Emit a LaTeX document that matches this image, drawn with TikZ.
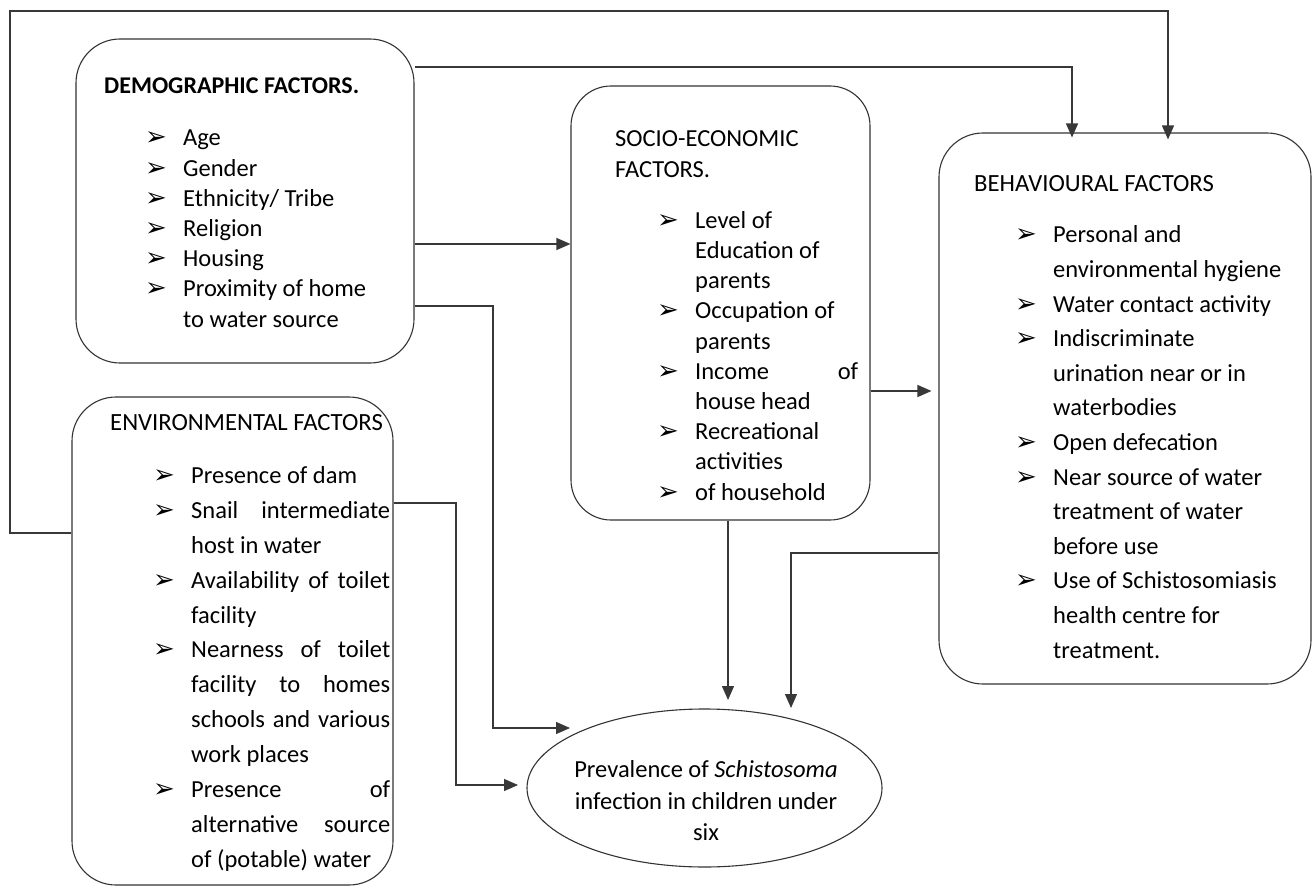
\documentclass[tikz,border=0pt]{standalone}
\usepackage{fontspec}
\setmainfont{Carlito}
\newfontfamily\djv{DejaVu Sans}
\usetikzlibrary{arrows.meta,shapes.geometric}
\newcommand{\bul}{{\djv\fontsize{26}{26}\selectfont ➢}}
\newcommand{\itm}[1]{\makebox[38pt][l]{\bul}#1}
\newcommand{\cnt}[1]{\hspace*{38pt}#1}
\begin{document}
\begin{tikzpicture}[x=1pt,y=-1pt,
  box/.style={draw=black!80, line width=1.1pt, rounded corners=44pt, inner sep=0pt},
  conn/.style={draw=black!78, line width=1.3pt},
  arr/.style={conn, -{Triangle[length=14pt,width=12pt]}},
  lst/.style={anchor=base west, align=left, inner sep=0pt},
  ttl/.style={anchor=base west, inner sep=0pt}]
\useasboundingbox (0,0) rectangle (1312,888);
% boxes
\node[box, minimum width=338pt, minimum height=324pt] (demo) at (245,201) {};
\node[box, minimum width=321pt, minimum height=488pt] (env) at (232.5,641) {};
\node[box, minimum width=299pt, minimum height=434pt, rounded corners=40pt] (socio) at (720.5,303) {};
\node[box, minimum width=372pt, minimum height=551pt] (behav) at (1125,408.5) {};
\node[draw=black!80, line width=1.1pt, ellipse, minimum width=355pt, minimum height=158pt, inner sep=0pt] (prev) at (704.5,788) {};
% titles
\node[ttl, font=\fontsize{24}{25}\selectfont\bfseries] (demot) at (104,94) {DEMOGRAPHIC FACTORS.};
\node[ttl, font=\fontsize{24.7}{25}\selectfont] (envt) at (110,430) {ENVIRONMENTAL FACTORS};
\node[ttl, font=\fontsize{24.5}{32}\selectfont, align=left] (sociot) at (615,178) {SOCIO-ECONOMIC\\FACTORS.};
\node[ttl, font=\fontsize{24.7}{25}\selectfont] (behavt) at (974,191) {BEHAVIOURAL FACTORS};
% lists (anchored at the baseline of their last line)
\node[lst, font=\fontsize{24.5}{30.2}\selectfont] (demol) at (145,327) {%
\itm{Age}\\ \itm{Gender}\\ \itm{Ethnicity/ Tribe}\\ \itm{Religion}\\ \itm{Housing}\\
\itm{Proximity of home}\\ \cnt{to water source}};
\node[lst, font=\fontsize{24.5}{34.85}\selectfont] (envl) at (153,867) {%
\itm{Presence of dam}\\
\itm{\makebox[199pt][s]{Snail intermediate}}\\
\cnt{host in water}\\
\itm{\makebox[199pt][s]{Availability of toilet}}\\
\cnt{facility}\\
\itm{\makebox[199pt][s]{Nearness of toilet}}\\
\cnt{\makebox[199pt][s]{facility to homes}}\\
\cnt{\makebox[199pt][s]{schools and various}}\\
\cnt{work places}\\
\itm{\makebox[199pt][s]{Presence of}}\\
\cnt{\makebox[199pt][s]{alternative source}}\\
\cnt{of (potable) water}};
\node[lst, font=\fontsize{24.5}{30.2}\selectfont] (sociol) at (657,500) {%
\itm{Level of}\\ \cnt{Education of}\\ \cnt{parents}\\
\itm{Occupation of}\\ \cnt{parents}\\
\itm{\makebox[163pt][s]{Income of}}\\ \cnt{house head}\\
\itm{Recreational}\\ \cnt{activities}\\
\itm{of household}};
\node[lst, font=\fontsize{24.5}{34.6}\selectfont] (behavl) at (1015,658) {%
\itm{Personal and}\\ \cnt{environmental hygiene}\\
\itm{Water contact activity}\\
\itm{Indiscriminate}\\ \cnt{urination near or in}\\ \cnt{waterbodies}\\
\itm{Open defecation}\\
\itm{Near source of water}\\ \cnt{treatment of water}\\ \cnt{before use}\\
\itm{Use of Schistosomiasis}\\ \cnt{health centre for}\\ \cnt{treatment.}};
\node[align=center, inner sep=0pt, font=\fontsize{24.5}{31.5}\selectfont] (prevt) at (706,801) {Prevalence of \textit{Schistosoma}\\ infection in children under\\ six};
% connectors
\draw[arr] (env.west |- 0,533) -- (10,533) -- (10,11) -- (1168,11) -- ([yshift=-7pt]behav.north -| 1168,0);
\draw[arr] (demo.east |- 0,67) -- (1072,67) -- ([yshift=-5pt]behav.north -| 1072,0);
\draw[arr] (demo.east |- 0,244) -- (socio.west |- 0,244);
\draw[arr] (demo.east |- 0,306) -- (493,306) -- (493,728) -- (570,728);
\draw[arr] (env.east |- 0,503) -- (456,503) -- (456,785) -- (518,785);
\draw[arr] (socio.south -| 728,0) -- (728,700);
\draw[arr] (behav.west |- 0,553) -- (791,553) -- (791,708);
\draw[arr] (socio.east |- 0,391) -- ([xshift=-7pt]behav.west |- 0,391);
\end{tikzpicture}
\end{document}
